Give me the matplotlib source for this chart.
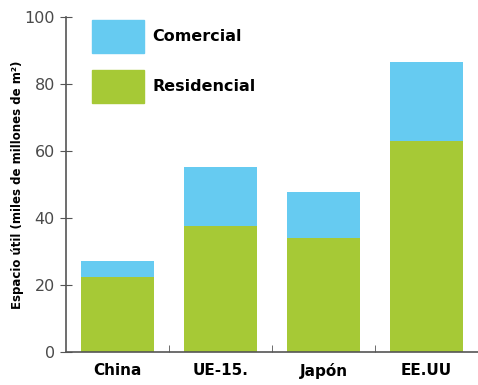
import matplotlib
matplotlib.use("Agg")
import matplotlib.pyplot as plt
from matplotlib.patches import Patch

# Data
regions = ["China", "UE-15.", "Japón", "EE.UU"]
residencial = [22.5, 37.5, 34.0, 63.0]
comercial = [4.5, 17.8, 13.8, 23.6]

GREEN = "#a6c936"
BLUE = "#66cbf1"
AXIS = "#555555"

fig = plt.figure(figsize=(4.78, 3.85), dpi=100)
ax = fig.add_axes([0.138, 0.086, 0.862, 0.870])

x = range(len(regions))
ax.bar(x, residencial, width=0.71, color=GREEN)
ax.bar(x, comercial, width=0.71, bottom=residencial, color=BLUE)

ax.set_xlim(-0.5, 3.5)
ax.set_ylim(0, 100)
ax.set_yticks(range(0, 101, 20))
ax.set_xticks(list(x))
ax.set_xticklabels(regions, fontsize=11, fontweight="bold")
ax.set_xticks([0.5, 1.5, 2.5], minor=True)
ax.tick_params(axis="x", which="major", length=0, pad=8)
ax.tick_params(axis="x", which="minor", direction="in", length=5, color=AXIS)
ax.tick_params(axis="y", direction="inout", length=8, color=AXIS,
               labelsize=11.5, labelcolor="#4a4a4a", pad=4)

for side in ["top", "right"]:
    ax.spines[side].set_visible(False)
for side in ["left", "bottom"]:
    ax.spines[side].set_color(AXIS)
    ax.spines[side].set_linewidth(1.2)

ax.set_ylabel("Espacio útil (miles de millones de m²)", fontsize=8.5,
              fontweight="bold", labelpad=0)

handles = [Patch(color=BLUE, label="Comercial"),
           Patch(color=GREEN, label="Residencial")]
ax.legend(handles=handles, loc="upper left", bbox_to_anchor=(0.04, 1.02),
          frameon=False, prop={"size": 11.5, "weight": "bold"},
          handlelength=3.25, handleheight=2.8, labelspacing=1.06,
          handletextpad=0.55, borderpad=0.1)

fig.savefig("out.png", dpi=100)
